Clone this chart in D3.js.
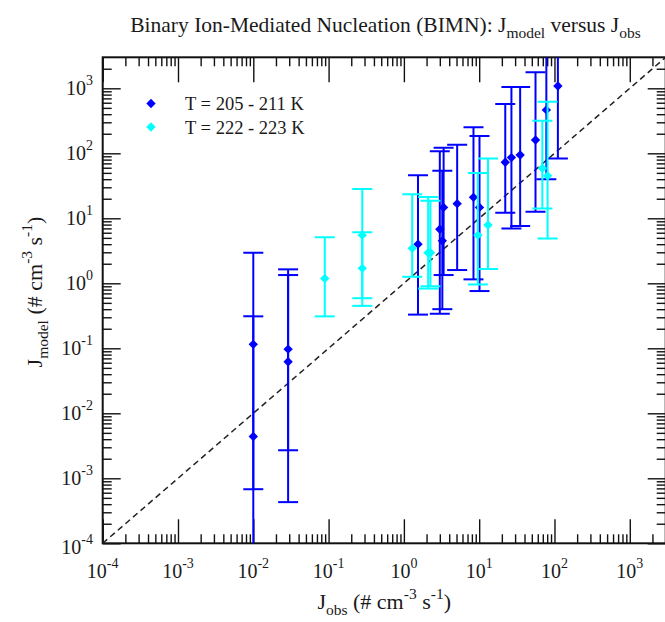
<!DOCTYPE html>
<html>
<head>
<meta charset="utf-8">
<script src="https://cdn.jsdelivr.net/npm/d3@7"></script>
<style>
  body { margin: 0; background: #fff; }
  text { font-family: "Liberation Serif", "Times New Roman", serif; fill: #1a1a1a; }
</style>
</head>
<body>
<div id="chart"></div>
<script>
// Each row: [J_obs, J_model, lower error, upper error]
const coldRuns = [
  [0.01, 0.115, 6.8e-4, 2.95],
  [0.01, 0.0044, 3e-5, 0.31],
  [0.029, 0.097, 4.3e-4, 1.64],
  [0.029, 0.062, 0.0027, 1.34],
  [1.54, 4.0, 0.33, 46],
  [3.0, 6.8, 0.34, 108],
  [3.24, 4.5, 0.4, 54],
  [3.37, 14.7, 1.34, 122],
  [5.1, 16.8, 1.6, 136],
  [8.4, 21, 1.15, 251],
  [10.1, 14.7, 0.76, 184],
  [22.2, 72.8, 12.2, 573],
  [26.8, 86, 7.0, 1050],
  [35, 94, 7.6, 1050],
  [56, 160, 12.6, 1760],
  [78, 465, 40, 8000],
  [111, 1085, 83, 8000]
];
const warmRuns = [
  [0.089, 1.19, 0.31, 5.1],
  [0.28, 5.5, 0.59, 28.3],
  [0.28, 1.7, 0.45, 6.1],
  [1.29, 3.45, 1.26, 23.4],
  [2.1, 2.95, 0.83, 21.2],
  [2.25, 2.95, 0.9, 18.6],
  [9.6, 5.5, 0.96, 50],
  [13.1, 7.9, 1.66, 83],
  [69, 59, 14.2, 317],
  [81, 45, 4.9, 620]
];
const seriesNames = ["T = 205 - 211 K", "T = 222 - 223 K"];
const seriesColors = ["#0000ff", "#00ffff"];
const decades = [-4, -3, -2, -1, 0, 1, 2, 3];
const refLine = [[1e-4, 1e-4], [3e3, 3e3]];

const width = 665, height = 622;
const plot = {left: 102.7, right: 665.7, top: 57.3, bottom: 543.3};

const svg = d3.select("#chart").append("svg")
    .attr("width", width)
    .attr("height", height);

const x = d3.scaleLog().domain([1e-4, 3e3]).range([plot.left, plot.right]);
const y = d3.scaleLog().domain([1e-4, 3e3]).range([plot.bottom, plot.top]);

const majors = decades.map(e => Math.pow(10, e));
const minors = [];
decades.forEach(e => {
  for (let k = 2; k <= 9; k++) {
    const v = k * Math.pow(10, e);
    if (v < 3e3) minors.push(v);
  }
});

// clip for the data
svg.append("clipPath").attr("id", "plotClip")
  .append("rect")
  .attr("x", plot.left).attr("y", plot.top)
  .attr("width", plot.right - plot.left)
  .attr("height", plot.bottom - plot.top);

// ticks (all pointing inward)
function tickAxis(axis, transform, size, values) {
  const g = svg.append("g")
    .attr("transform", transform)
    .call(axis.tickValues(values).tickSize(size).tickFormat(""));
  g.select(".domain").remove();
  g.selectAll("line").attr("stroke", "#111").attr("stroke-width", 1.4);
}
tickAxis(d3.axisBottom(x), `translate(0,${plot.bottom})`, -24, majors);
tickAxis(d3.axisBottom(x), `translate(0,${plot.bottom})`, -9, minors);
tickAxis(d3.axisTop(x), `translate(0,${plot.top})`, -25, majors);
tickAxis(d3.axisTop(x), `translate(0,${plot.top})`, -9, minors);
tickAxis(d3.axisLeft(y), `translate(${plot.left},0)`, -18, majors);
tickAxis(d3.axisLeft(y), `translate(${plot.left},0)`, -9, minors);
tickAxis(d3.axisRight(y), `translate(${plot.right},0)`, -18, majors);
tickAxis(d3.axisRight(y), `translate(${plot.right},0)`, -9, minors);

// frame
svg.append("rect")
  .attr("x", plot.left).attr("y", plot.top)
  .attr("width", plot.right - plot.left)
  .attr("height", plot.bottom - plot.top)
  .attr("fill", "none")
  .attr("stroke", "#111")
  .attr("stroke-width", 2);

// tick labels as 10^n
function powerLabel(sel, e) {
  sel.append("tspan").text("10");
  sel.append("tspan").attr("dy", -10).attr("font-size", 14).text(e);
}
decades.forEach(e => {
  svg.append("text")
    .attr("x", x(Math.pow(10, e)))
    .attr("y", 578)
    .attr("text-anchor", "middle")
    .attr("font-size", 20)
    .call(powerLabel, e);
  svg.append("text")
    .attr("x", 93)
    .attr("y", y(Math.pow(10, e)) + (e === -4 ? 11 : 7))
    .attr("text-anchor", "end")
    .attr("font-size", 20)
    .call(powerLabel, e);
});

// 1:1 reference line
svg.append("path")
  .datum(refLine)
  .attr("d", d3.line().x(d => x(d[0])).y(d => y(d[1])))
  .attr("stroke", "#222")
  .attr("stroke-width", 1.5)
  .attr("stroke-dasharray", "6,4")
  .attr("fill", "none");

const diamond = d3.symbol().type(d3.symbolDiamond2).size(56);

// error bars and points
const capHalf = 10;
[coldRuns, warmRuns].forEach((rows, i) => {
  const g = svg.append("g").attr("clip-path", "url(#plotClip)");
  const color = seriesColors[i];
  rows.forEach(d => {
    const cx = x(d[0]);
    g.append("line")
      .attr("x1", cx).attr("x2", cx)
      .attr("y1", y(d[2])).attr("y2", y(d[3]))
      .attr("stroke", color).attr("stroke-width", 2);
    [d[2], d[3]].forEach(v => {
      g.append("line")
        .attr("x1", cx - capHalf).attr("x2", cx + capHalf)
        .attr("y1", y(v)).attr("y2", y(v))
        .attr("stroke", color).attr("stroke-width", 2);
    });
  });
  g.selectAll("path.pt")
    .data(rows)
    .enter()
    .append("path")
    .attr("class", "pt")
    .attr("d", diamond)
    .attr("transform", d => `translate(${x(d[0])},${y(d[1])})`)
    .attr("fill", color);
});

// legend
seriesNames.forEach((name, i) => {
  svg.append("path")
    .attr("d", diamond)
    .attr("transform", `translate(151,${103.5 + i * 23.5})`)
    .attr("fill", seriesColors[i]);
  svg.append("text")
    .attr("x", 185)
    .attr("y", 110 + i * 23.5)
    .attr("font-size", 18.5)
    .text(name);
});

// title
const title = svg.append("text")
  .attr("x", 385.5)
  .attr("y", 31.5)
  .attr("text-anchor", "middle")
  .attr("font-size", 21.5);
title.append("tspan").text("Binary Ion-Mediated Nucleation (BIMN): J");
title.append("tspan").attr("dy", 6).attr("font-size", 15.5).text("model");
title.append("tspan").attr("dy", -6).text(" versus J");
title.append("tspan").attr("dy", 6).attr("font-size", 15.5).text("obs");

// axis titles
function unitLabel(sel, sub) {
  sel.append("tspan").text("J");
  sel.append("tspan").attr("dy", 6).attr("font-size", 15.5).text(sub);
  sel.append("tspan").attr("dy", -6).text(" (# cm");
  sel.append("tspan").attr("dy", -10).attr("font-size", 15.5).text("-3");
  sel.append("tspan").attr("dy", 10).text(" s");
  sel.append("tspan").attr("dy", -10).attr("font-size", 15.5).text("-1");
  sel.append("tspan").attr("dy", 10).text(")");
}
svg.append("text")
  .attr("x", (plot.left + plot.right) / 2)
  .attr("y", 609)
  .attr("text-anchor", "middle")
  .attr("font-size", 22)
  .call(unitLabel, "obs");

svg.append("text")
  .attr("transform", `translate(42,292) rotate(-90)`)
  .attr("text-anchor", "middle")
  .attr("font-size", 22)
  .call(unitLabel, "model");
</script>
</body>
</html>
